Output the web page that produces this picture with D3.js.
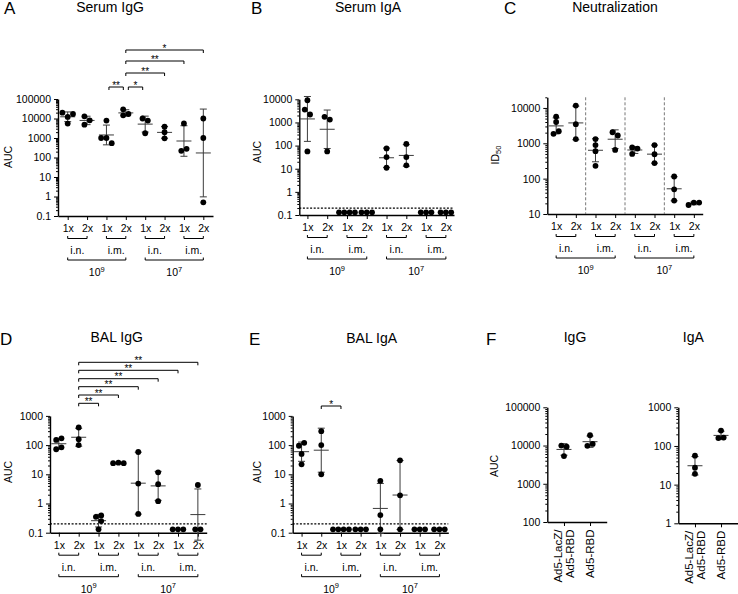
<!DOCTYPE html>
<html><head><meta charset="utf-8">
<script src="https://cdn.jsdelivr.net/npm/d3@7"></script>
<style>body{margin:0;background:#fff}svg{display:block}</style>
</head><body><svg id="c" width="738" height="594"></svg>
<script>
// ---------- DATA ----------
const catLabels = ["1x","2x","1x","2x","1x","2x","1x","2x"];
const routeLabels = ["i.n.","i.m.","i.n.","i.m."];
const doseExp = ["9","7"];
const L = 0.13;            // plotted value for samples below detection
const detectionLimit = 0.2;

const serumIgG = [[12000,20000,17000,5500],[8100,13000,4800],[1000,1000,540,7800],[17000,29500,14500],[7800,10000,1750],[3800,2000,960],[5600,280,220],[10000,1000,0.5]];
const serumIgA = [[2200,3600,9100,56],[1330,1750,56],[L,L,L,L],[L,L,L],[75,32,11],[118,32,14],[L,L,L],[L,L,L]];
const neutralization = [[2200,1850,5700,4000],[11700,3470,1320],[1320,890,600,230],[1660,2050,650],[710,760,500],[890,490,275],[115,50,24],[21,18,21]];
const balIgG = [[170,150,84,72],[400,160,100],[0.39,0.35,0.25,0.13],[25,24,24],[58,4.8,0.44],[11.7,4.6,1.2],[L,L,L],[4.3,L,L]];
const balIgA = [[120,95,50,22],[300,100,10],[L,L,L,L],[L,L,L],[6,0.4,L],[30,1.9,L],[L,L,L],[L,L,L]];
const fIgG = [[9300,10000,5300],[11000,9800,18600]];
const fIgA = [[56,27.5,19],[165,160,250]];
const fLabels = [["Ad5-LacZ/","Ad5-RBD"],["Ad5-RBD"]];

const sigSerumIgG = [[2,3,"**"],[3,4,"*"],[3,5,"**"],[3,6,"**"],[3,7,"*"]];
const sigBalIgG = [[1,2,"**"],[1,3,"**"],[1,4,"**"],[1,5,"**"],[1,6,"**"],[1,7,"**"]];
const sigBalIgA = [[1,2,"*"]];

// ---------- DRAWING ----------
const FONT = '"Liberation Sans", Arial, Helvetica, sans-serif';
const svg = d3.select("#c");
const R = 2.9, STEP = 5.3, THR = 5.4;
const BARC = "#3c3c3c";

function isMajor(v){ const l=Math.log10(v); return Math.abs(l-Math.round(l))<1e-6; }
function fmtMajor(v){ return String(+(v.toPrecision(1))); }

function swarm(vals, y){
  const pts = vals.map(v=>({v, py:y(v), slot:0}));
  const order=[0,-1,1,-2,2,-3,3,-4,4];
  pts.forEach((p,i)=>{
    for(const s of order){
      if(!pts.slice(0,i).some(q=>q.slot===s && Math.abs(q.py-p.py)<THR)){p.slot=s;break;}
    }
  });
  const par = pts.map((_,i)=>i);
  const find = i => par[i]===i?i:(par[i]=find(par[i]));
  for(let i=0;i<pts.length;i++) for(let j=i+1;j<pts.length;j++)
    if(Math.abs(pts[i].py-pts[j].py)<THR) par[find(i)]=find(j);
  const comps = d3.group(pts.map((p,i)=>({p,i})), d=>find(d.i));
  comps.forEach(list=>{
    const sl=list.map(d=>d.p.slot);
    const sh=-(d3.min(sl)+d3.max(sl))/2;
    list.forEach(d=>d.p.slot+=sh);
  });
  return pts;
}

function geoStats(vals){
  const l=vals.map(Math.log10), m=d3.mean(l), s=l.length>1?d3.deviation(l):0;
  return {m:10**m, lo:10**(m-s), hi:10**(m+s), s};
}

function text(g,x,y,str,size,anchor="middle",weight="normal"){
  return g.append("text").attr("x",x).attr("y",y).attr("text-anchor",anchor)
    .attr("font-family",FONT).attr("font-size",size).attr("font-weight",weight).attr("fill","#000").text(str);
}

function panel(cfg){
  const g = svg.append("g");
  const x = d3.scalePoint().domain(d3.range(cfg.data.length)).range(cfg.x).padding(cfg.pad);
  const y = d3.scaleLog().domain(cfg.dom).range(cfg.y);
  const y0 = cfg.y[0];

  // y axis
  const ya = g.append("g").attr("transform",`translate(${cfg.x[0]},0)`)
    .call(d3.axisLeft(y).tickValues(y.ticks()).tickSize(4).tickSizeOuter(0).tickPadding(3)
      .tickFormat(v=>isMajor(v)?fmtMajor(v):""));
  ya.selectAll(".tick").filter(v=>!isMajor(v)).select("line").attr("x2",-2);
  ya.attr("font-family",FONT).attr("font-size",10.5).attr("color","#000");
  ya.select(".domain").attr("stroke-width",1.4);

  // x axis
  const xa = g.append("g").attr("transform",`translate(0,${y0})`)
    .call(d3.axisBottom(x).tickSize(4).tickSizeOuter(0).tickPadding(4.5)
      .tickFormat(i=>cfg.xlabels?"":catLabels[i]));
  xa.attr("font-family",FONT).attr("font-size",10.5).attr("color","#000");
  xa.select(".domain").attr("stroke-width",1.4);

  // detection limit
  if(cfg.lod){
    g.append("line").attr("x1",cfg.x[0]).attr("x2",cfg.x[1]).attr("y1",y(detectionLimit)).attr("y2",y(detectionLimit))
      .attr("stroke","#000").attr("stroke-width",1.3).attr("stroke-dasharray","2,1.6");
  }
  // separators
  if(cfg.separators){
    cfg.separators.forEach(i=>{
      const xs=(x(i)+x(i+1))/2;
      g.append("line").attr("x1",xs).attr("x2",xs).attr("y1",y(cfg.dom[1])).attr("y2",y0)
        .attr("stroke","#777").attr("stroke-width",1).attr("stroke-dasharray","3,2");
    });
  }

  // error bars
  cfg.data.forEach((vals,i)=>{
    const st=geoStats(vals);
    if(st.s<1e-9) return;
    const cx=x(i);
    const eg=g.append("g").attr("stroke",BARC).attr("stroke-width",1).attr("fill","none");
    eg.append("line").attr("x1",cx).attr("x2",cx).attr("y1",y(st.lo)).attr("y2",y(Math.min(st.hi,cfg.dom[1]*1.5)));
    eg.append("line").attr("x1",cx-3.5).attr("x2",cx+3.5).attr("y1",y(st.lo)).attr("y2",y(st.lo));
    eg.append("line").attr("x1",cx-3.5).attr("x2",cx+3.5).attr("y1",y(st.hi)).attr("y2",y(st.hi));
    eg.append("line").attr("x1",cx-7.5).attr("x2",cx+7.5).attr("y1",y(st.m)).attr("y2",y(st.m));
  });
  // dots
  cfg.data.forEach((vals,i)=>{
    swarm(vals,y).forEach(p=>{
      g.append("circle").attr("cx",x(i)+p.slot*STEP).attr("cy",p.py).attr("r",R).attr("fill","#000");
    });
  });

  // group brackets under axis
  if(!cfg.xlabels){
    const br=(xa_,xb_,yy)=>g.append("path").attr("d",`M${xa_},${yy-2.5}V${yy}H${xb_}V${yy-2.5}`)
      .attr("fill","none").attr("stroke","#000").attr("stroke-width",1);
    routeLabels.forEach((lab,k)=>{
      br(x(2*k),x(2*k+1),y0+22.5);
      text(g,(x(2*k)+x(2*k+1))/2,y0+38,lab,10.5);
    });
    doseExp.forEach((e,k)=>{
      br(x(4*k),x(4*k+3),y0+44);
      const t=text(g,(x(4*k)+x(4*k+3))/2,y0+60,"10",10.5);
      t.append("tspan").attr("dy",-4.5).attr("font-size",7.5).text(e);
    });
  } else {
    cfg.xlabels.forEach((lines,i)=>{
      lines.forEach((ln,j)=>{
        const xx=x(i)+(j-(lines.length-1)/2)*12.6;
        g.append("text").attr("transform",`translate(${xx},${y0+7.5}) rotate(-90)`)
          .attr("text-anchor","end").attr("dy","0.35em").attr("font-family",FONT).attr("font-size",11.5).text(ln);
      });
    });
  }

  // significance
  if(cfg.sig){
    cfg.sig.forEach((s,k)=>{
      const yy=cfg.sigY[k], ins=cfg.sigInset?cfg.sigInset[k]:0;
      const xa_=x(s[0])+ins, xb_=x(s[1])-ins;
      g.append("path").attr("d",`M${xa_},${yy+3}V${yy}H${xb_}V${yy+3}`)
        .attr("fill","none").attr("stroke","#000").attr("stroke-width",1);
      text(g,(xa_+xb_)/2,yy+1.5,s[2],10);
    });
  }

  // titles & labels
  if(cfg.title) text(svg,cfg.title[1],cfg.title[2],cfg.title[0],14);
  if(cfg.letter) text(svg,cfg.letter[1],cfg.letter[2],cfg.letter[0],17,"start");
  if(cfg.ylab){
    const t=svg.append("text").attr("transform",`translate(${cfg.ylab[1]},${cfg.ylab[2]}) rotate(-90)`)
      .attr("text-anchor","middle").attr("dy","0.36em").attr("font-family",FONT).attr("font-size",10.5).text(cfg.ylab[0]);
    if(cfg.ylabSub) t.append("tspan").attr("font-size",7.5).attr("dy",2.5).text(cfg.ylabSub);
  }
}

panel({data:serumIgG,x:[58,213],pad:0.5,y:[216,99],dom:[0.1,1e5],
  title:["Serum IgG",110,12],letter:["A",4,14],ylab:["AUC",8,157],
  sig:sigSerumIgG,sigY:[87,87,73,61,50],sigInset:[2.5,2.5,0,0,0]});
panel({data:serumIgA,x:[299.3,454],pad:0.41,y:[215,99.3],dom:[0.1,1e4],lod:true,
  title:["Serum IgA",368,12],letter:["B",251,14],ylab:["AUC",257.5,152]});
panel({data:neutralization,x:[547.3,702.7],pad:0.45,y:[214,97.3],dom:[10,2e4],separators:[1,3,5],
  title:["Neutralization",615,12],letter:["C",504,14],ylab:["ID",495,155],ylabSub:"50"});
panel({data:balIgG,x:[50,206.7],pad:0.445,y:[532.7,415.9],dom:[0.1,1e3],lod:true,
  title:["BAL IgG",116.7,341.7],letter:["D",0,345],ylab:["AUC",8,472],
  sig:sigBalIgG,sigY:[403.3,395,386.7,378.7,370.3,362.3]});
panel({data:balIgA,x:[292.7,448.3],pad:0.45,y:[532.7,415.9],dom:[0.1,1e3],lod:true,
  title:["BAL IgA",371.7,343],letter:["E",249,345],ylab:["AUC",257.5,472],
  sig:sigBalIgA,sigY:[406]});
panel({data:fIgG,x:[547.3,606.7],pad:0.64,y:[522,407.3],dom:[100,1e5],xlabels:fLabels,
  title:["IgG",575,342],letter:["F",486,345],ylab:["AUC",494,466]});
panel({data:fIgA,x:[678.3,737.7],pad:0.64,y:[523.3,407.3],dom:[1,1e3],xlabels:fLabels,
  title:["IgA",693.3,342]});
</script></body></html>
